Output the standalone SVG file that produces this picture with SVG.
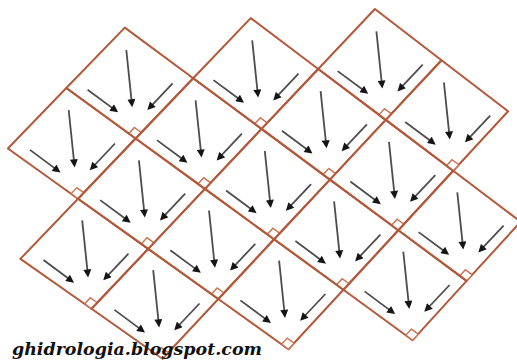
<svg xmlns="http://www.w3.org/2000/svg" width="517" height="362" viewBox="0 0 517 362">
<style>
.cell{fill:none;stroke:#b5583a;stroke-width:2;stroke-linejoin:round}
.arr{stroke:#4d4d4d;stroke-width:1.8;fill:none;marker-end:url(#ah)}
.outlet{fill:#fff;stroke:#c9714f;stroke-width:1.4}
.wm{font-family:"DejaVu Serif",serif;font-style:italic;font-weight:bold;font-size:17px;fill:#111}
</style>
<defs>
<marker id="ah" viewBox="0 0 10 10" refX="7" refY="5" markerWidth="9" markerHeight="8" markerUnits="userSpaceOnUse" orient="auto"><path d="M0,0L10,5L0,10z" fill="#151515"/></marker>
<g id="content">
<line class="arr" x1="-9.3" y1="-88.5" x2="-3.6" y2="-33.7"/>
<line class="arr" x1="-48" y1="-48.8" x2="-19.4" y2="-27.6"/>
<line class="arr" x1="37" y1="-55.2" x2="13.4" y2="-30.2"/>
<polygon class="outlet" points="0,0 5.7,-6 -1.2,-11.1 -6.8,-5.1"/>
</g>
</defs>
<g id="cells">
<g id="cell-0-0"><polygon class="cell" points="124.8,27.6 193.2,78.3 135.6,138.5 66.3,88.0"/><use href="#content" x="135.6" y="138.5"/></g>
<g id="cell-1-m1"><polygon class="cell" points="250.7,18.1 318.2,69.0 261.5,128.9 193.2,78.3"/><use href="#content" x="261.5" y="128.9"/></g>
<g id="cell-2-m2"><polygon class="cell" points="374.9,9.0 441.5,60.2 385.7,119.9 318.2,69.0"/><use href="#content" x="385.7" y="119.9"/></g>
<g id="cell-0-1"><polygon class="cell" points="66.3,88.0 135.6,138.5 78.0,198.7 7.9,148.5"/><use href="#content" x="78.0" y="198.7"/></g>
<g id="cell-1-0"><polygon class="cell" points="193.2,78.3 261.5,128.9 204.9,188.9 135.6,138.5"/><use href="#content" x="204.9" y="188.9"/></g>
<g id="cell-2-m1"><polygon class="cell" points="318.2,69.0 385.7,119.9 329.9,179.6 261.5,128.9"/><use href="#content" x="329.9" y="179.6"/></g>
<g id="cell-3-m2"><polygon class="cell" points="441.5,60.2 508.1,111.3 453.2,170.8 385.7,119.9"/><use href="#content" x="453.2" y="170.8"/></g>
<g id="cell-1-1"><polygon class="cell" points="135.6,138.5 204.9,188.9 148.2,248.9 78.0,198.7"/><use href="#content" x="148.2" y="248.9"/></g>
<g id="cell-2-0"><polygon class="cell" points="261.5,128.9 329.9,179.6 274.1,239.3 204.9,188.9"/><use href="#content" x="274.1" y="239.3"/></g>
<g id="cell-3-m1"><polygon class="cell" points="385.7,119.9 453.2,170.8 398.3,230.3 329.9,179.6"/><use href="#content" x="398.3" y="230.3"/></g>
<g id="cell-1-2"><polygon class="cell" points="78.0,198.7 148.2,248.9 91.5,308.8 20.4,258.9"/><use href="#content" x="91.5" y="308.8"/></g>
<g id="cell-2-1"><polygon class="cell" points="204.9,188.9 274.1,239.3 218.3,299.0 148.2,248.9"/><use href="#content" x="218.3" y="299.0"/></g>
<g id="cell-3-0"><polygon class="cell" points="329.9,179.6 398.3,230.3 343.4,289.8 274.1,239.3"/><use href="#content" x="343.4" y="289.8"/></g>
<g id="cell-4-m1"><polygon class="cell" points="453.2,170.8 520.7,221.7 466.6,280.9 398.3,230.3"/><use href="#content" x="466.6" y="280.9"/></g>
<g id="cell-2-2"><polygon class="cell" points="148.2,248.9 218.3,299.0 162.5,358.7 91.5,308.8"/><use href="#content" x="162.5" y="358.7"/></g>
<g id="cell-3-1"><polygon class="cell" points="274.1,239.3 343.4,289.8 288.4,349.2 218.3,299.0"/><use href="#content" x="288.4" y="349.2"/></g>
<g id="cell-4-0"><polygon class="cell" points="398.3,230.3 466.6,280.9 412.6,340.2 343.4,289.8"/><use href="#content" x="412.6" y="340.2"/></g>
</g>
<g id="connectors"/>
<text class="wm" x="12" y="355" textLength="250" lengthAdjust="spacingAndGlyphs">ghidrologia.blogspot.com</text>
</svg>
